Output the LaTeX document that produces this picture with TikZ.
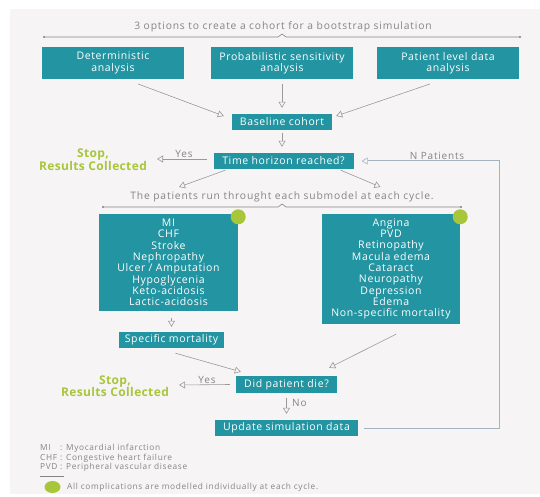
\documentclass[tikz,border=0pt]{standalone}
\usepackage{fontspec}
\setmainfont{Open Sans}
\newfontfamily\boxfont[LetterSpace=6]{Open Sans}
\newfontfamily\wfont[LetterSpace=8]{Open Sans}
\newfontfamily\stopfont[LetterSpace=3]{Open Sans}
\usetikzlibrary{arrows.meta,calc}
\definecolor{teal1}{HTML}{2394A1}
\definecolor{lime1}{HTML}{A8C63A}
\definecolor{gtxt}{HTML}{858585}
\definecolor{garr}{HTML}{9A9A9A}
\definecolor{bgc}{HTML}{F6F4F5}
\definecolor{loopc}{HTML}{A3B4C0}
\begin{document}
\begin{tikzpicture}[x=1pt,y=-1pt,
  box/.style={fill=teal1, text=white, font=\boxfont\fontsize{10.5}{11.3}\selectfont, align=center, inner sep=0pt},
  arr/.style={draw=garr, line width=0.6pt, -{Triangle[open, length=6pt, width=7pt]}},
  looparr/.style={draw=loopc, line width=1pt, -{Triangle[open, length=6pt, width=7pt, line width=0.6pt]}},
  lbl/.style={text=gtxt, font=\wfont\fontsize{10}{11}\selectfont, inner sep=0pt},
  stoptxt/.style={text=lime1, font=\stopfont\fontsize{12}{12.5}\selectfont\bfseries, align=center, inner sep=0pt},
  legtxt/.style={text=gtxt, font=\wfont\fontsize{8.3}{9}\selectfont, inner sep=0pt, anchor=west},
  brk/.style={draw=gtxt, line width=0.6pt},
  dotc/.style={fill=lime1, draw=none}
]
\useasboundingbox (0,0) rectangle (540,497);
\fill[bgc] (10,9) rectangle (540,494);

% top title and bracket
\node[lbl, font=\wfont\fontsize{10.3}{11}\selectfont] (t1) at (283,27) {3 options to create a cohort for a bootstrap simulation};
\coordinate (bl1) at (44,37);
\coordinate (br1) at (520,37);
\draw[brk] (bl1) -- (278,37) -- (282,34) -- (286,37) -- (br1);
\fill[gtxt] (bl1) circle (1.2) (br1) circle (1.2);

% top boxes
\node[box, minimum width=142pt, minimum height=31.5pt] (b1) at (113,63) {Deterministic\\analysis};
\node[box, minimum width=142pt, minimum height=31.5pt] (b2) at (282,63) {Probabilistic sensitivity\\analysis};
\node[box, minimum width=142pt, minimum height=31.5pt] (b3) at (448,63) {Patient level data\\analysis};

\node[box, minimum width=100pt, minimum height=16pt] (base) at (282,122) {Baseline cohort};
\draw[arr] ($(b1.south)+(25,5)$) -- ($(base.west)+(-8,-6)$);
\draw[arr] ($(b2.south)+(0,5)$) -- ($(base.north)+(0,-6)$);
\draw[arr] ($(b3.south)+(-18,5)$) -- ($(base.east)+(4,-6)$);

\node[box, minimum width=140pt, minimum height=16pt] (th) at (283.5,161) {Time horizon reached?};
\draw[arr] ($(base.south)+(0,3)$) -- ($(base.south |- th.north)+(0,-6)$);

% stop 1
\node[stoptxt] (stop1) at (93,159.5) {Stop,\\Results Collected};
\draw[arr] ($(th.west)+(-6,-2)$) -- (157,159);
\node[lbl] (yes1) at (184,154) {Yes};

% loop
\node[box, minimum width=143pt, minimum height=16pt] (upd) at (286.5,428) {Update simulation data};
\coordinate (lc) at (499,161);
\draw[looparr] ($(upd.east)+(6,0)$) -| (lc) -- ($(th.east)+(8,0)$);
\node[lbl] (np) at (437,156) {N Patients};

% subtitle and bracket
\node[lbl, font=\wfont\fontsize{10.3}{11}\selectfont] (t2) at (282,197) {The patients run throught each submodel at each cycle.};
\draw[arr] ($(th.south west)+(12,1)$) -- (179,187);
\draw[arr] ($(th.south east)+(-13,1)$) -- (380.5,187);
\coordinate (bl2) at (103,207);
\coordinate (br2) at (461,207);
\draw[brk] (bl2) -- (278,207) -- (282,204) -- (286,207) -- (br2);
\fill[gtxt] (bl2) circle (1.2) (br2) circle (1.2);

% submodel boxes
\node[box, minimum width=139pt, minimum height=97pt] (lb) at (168.5,262.5) {MI\\CHF\\Stroke\\Nephropathy\\Ulcer / Amputation\\Hypoglycenia\\Keto-acidosis\\Lactic-acidosis};
\node[box, minimum width=138pt, minimum height=110pt] (rb) at (391,269) {Angina\\PVD\\Retinopathy\\Macula edema\\Cataract\\Neuropathy\\Depression\\Edema\\Non-specific mortality};
\fill[dotc] (lb.north east) ++(0,3) circle (7.5);
\fill[dotc] (rb.north east) ++(0,3) circle (7.5);

\node[box, minimum width=105pt, minimum height=16pt] (spec) at (171.5,340) {Specific mortality};
\draw[arr] ($(spec.north)+(0,-14)$) -- ($(spec.north)+(0,-5)$);

\node[box, minimum width=101pt, minimum height=17pt] (die) at (286.5,384.5) {Did patient die?};
\draw[arr] ($(spec.south)+(4,5)$) -- ($(die.north west)+(5,-4)$);
\draw[arr] ($(rb.south)+(5,10)$) -- ($(die.north east)+(-8,-8)$);

\node[stoptxt] (stop2) at (115,386) {Stop,\\Results Collected};
\draw[arr] ($(die.west)+(-6,0)$) -- (179,385);
\node[lbl] (yes2) at (207,380) {Yes};

\draw[arr] ($(die.south)+(0,4.5)$) -- ($(upd.north)+(0,-6)$);
\node[lbl, anchor=west] (no) at (292,402.5) {No};

% legend
\node[legtxt] (l1) at (40,448) {\makebox[20pt][l]{MI}: Myocardial infarction};
\node[legtxt] (l2) at (40,458) {\makebox[20pt][l]{CHF}: Congestive heart failure};
\node[legtxt] (l3) at (40,467.5) {\makebox[20pt][l]{PVD}: Peripheral vascular disease};
\draw[draw=gtxt, line width=0.6pt] (40,476.5) -- (64,476.5);
\fill[dotc] (52.5,487) ellipse (8 and 6);
\node[legtxt] (l4) at (67,487) {All complications are modelled individually at each cycle.};
\end{tikzpicture}
\end{document}
